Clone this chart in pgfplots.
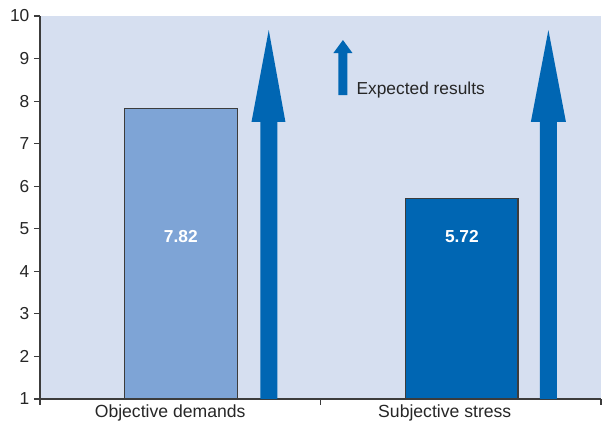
\documentclass[border=0pt]{standalone}
\usepackage{pgfplots}
\pgfplotsset{compat=1.18}
\usepackage{fontspec}
\setmainfont{Liberation Sans}
\definecolor{bgblue}{RGB}{214,223,240}
\definecolor{lightbar}{RGB}{126,164,214}
\definecolor{darkblue}{RGB}{0,102,179}
\definecolor{axisgray}{RGB}{60,60,60}
\begin{document}
\begin{tikzpicture}[x=1pt,y=1pt]
\begin{axis}[
  scale only axis,
  width=420.75pt, height=287.25pt,
  xmin=0, xmax=2, ymin=1, ymax=10,
  axis x line=bottom, axis y line=left,
  axis line style={-, draw=axisgray, line width=0.8pt},
  axis background/.style={fill=bgblue},
  xtick={0,1,2}, xticklabels={},
  extra x ticks={0.464,1.443},
  extra x tick labels={Objective demands, Subjective stress},
  extra x tick style={major tick length=0pt, tick label style={yshift=-1pt, font=\fontsize{13.2}{15}\selectfont}},
  ytick={1,...,10},
  tick align=outside,
  major tick length=4.5pt,
  tick style={draw=axisgray, line width=0.8pt},
  tick label style={font=\fontsize{13}{15}\selectfont, text=black!85},
  /pgf/number format/assume math mode=true,
  clip=false,
]
\addplot[ybar, bar width=0.403, bar shift=0pt, fill=lightbar, draw=axisgray, line width=0.8pt] coordinates {(0.502,7.82)};
\addplot[ybar, bar width=0.400, bar shift=0pt, fill=darkblue, draw=axisgray, line width=0.8pt] coordinates {(1.504,5.72)};
% big arrows
\addplot[fill=darkblue, draw=none] coordinates {(0.786,1) (0.786,7.51) (0.754,7.51) (0.8155,9.67) (0.875,7.51) (0.846,7.51) (0.846,1)} -- cycle;
\addplot[fill=darkblue, draw=none] coordinates {(1.782,1) (1.782,7.51) (1.750,7.51) (1.8125,9.67) (1.875,7.51) (1.843,7.51) (1.843,1)} -- cycle;
% legend arrow
\addplot[fill=darkblue, draw=none] coordinates {(1.064,8.14) (1.064,9.13) (1.046,9.13) (1.080,9.435) (1.114,9.13) (1.096,9.13) (1.096,8.14)} -- cycle;
\node[anchor=west, font=\fontsize{13}{15}\selectfont, text=black!85] at (axis cs:1.112,8.27) {Expected results};
\node[font=\bfseries\fontsize{13}{15}\selectfont, text=white] at (axis cs:0.502,4.82) {7.82};
\node[font=\bfseries\fontsize{13}{15}\selectfont, text=white] at (axis cs:1.504,4.82) {5.72};
\end{axis}
\useasboundingbox ([xshift=-30pt,yshift=-23.25pt]current axis.south west) rectangle ([xshift=10.5pt,yshift=12pt]current axis.north east);
\end{tikzpicture}
\end{document}
